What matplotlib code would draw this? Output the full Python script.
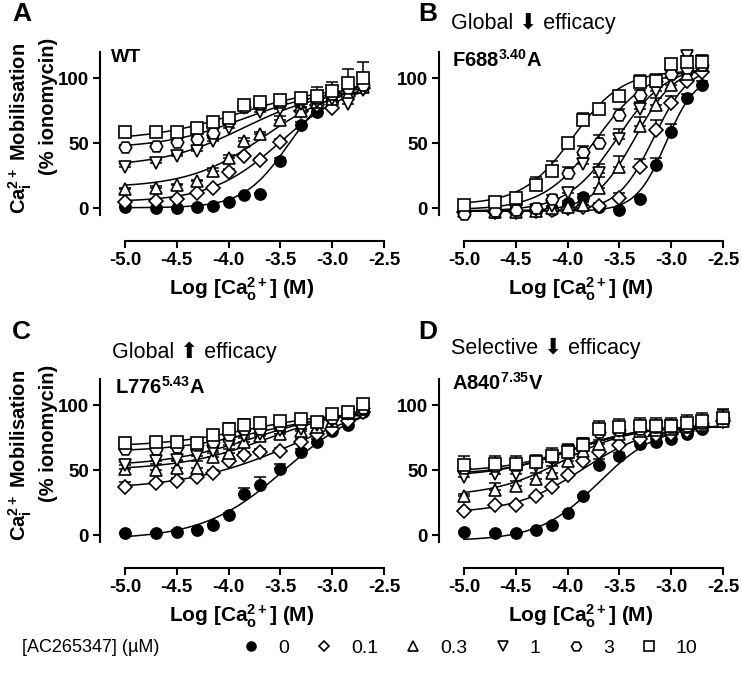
import numpy as np
import matplotlib
matplotlib.use("Agg")
from matplotlib import pyplot as plt
from matplotlib.lines import Line2D
from matplotlib.ticker import FormatStrFormatter

plt.rcParams['font.family'] = ['Liberation Sans', 'DejaVu Sans']
plt.rcParams['mathtext.fontset'] = 'custom'
plt.rcParams['mathtext.rm'] = 'Liberation Sans:bold'
plt.rcParams['mathtext.bf'] = 'Liberation Sans:bold'
plt.rcParams['mathtext.it'] = 'Liberation Sans:bold'
plt.rcParams['axes.unicode_minus'] = False

# log [Ca2+o] (M)
log_ca = [-5.0, -4.7, -4.5, -4.3, -4.15, -4.0, -3.85, -3.7, -3.5, -3.3, -3.15, -3.0, -2.85, -2.7]
log_ca_d = log_ca + [-2.5]

# [AC265347] (uM)
conc_labels = ["0", "0.1", "0.3", "1", "3", "10"]

# % ionomycin, rows = 0, 0.1, 0.3, 1, 3, 10 uM
wt_means = [
    [1, 0, 0, 1, 2, 5, 10, 11, 36, 64, 74, 82, 93, 96],
    [5, 6, 7, 12, 16, 28, 40, 37, 51, 75, 79, 77, 86, 92],
    [15, 16, 18, 21, 29, 39, 52, 57, 68, 75, 82, 84, 88, 93],
    [32, 35, 40, 44, 52, 62, 77, 74, 76, 80, 82, 84, 80, 91],
    [47, 48, 51, 53, 58, 67, 78, 80, 82, 84, 85, 88, 92, 95],
    [59, 59, 59, 62, 66, 69, 79, 82, 83, 85, 86, 90, 96, 100],
]
wt_sem = [
    [1, 1, 1, 1, 1, 1, 1, 1, 3, 2, 2, 3, 3, 4],
    [1, 1, 1, 1, 1, 2, 2, 2, 2, 3, 3, 3, 4, 4],
    [1, 1, 1, 1, 2, 2, 2, 2, 3, 3, 3, 3, 4, 4],
    [2, 2, 2, 2, 2, 3, 2, 2, 2, 3, 4, 4, 4, 5],
    [2, 2, 2, 2, 2, 2, 3, 2, 2, 3, 5, 5, 6, 6],
    [2, 2, 2, 2, 2, 2, 2, 2, 3, 3, 7, 7, 11, 12],
]
wt_fit_bottom = [0.5, 5, 16, 32, 46, 52]
wt_fit_top = [98, 97, 95, 92, 92, 94]
wt_fit_logec50 = [-3.42, -3.5, -3.65, -3.85, -3.85, -3.9]
wt_fit_hill = [2.0, 1.3, 1.2, 1.1, 1.1, 1.0]

f688_means = [
    [-2, -3, -3, -2, -1, 4, 9, 1, -1, 7, 33, 59, 85, 95],
    [-3, -3, -3, -2, -1, 0, 1, 2, 8, 32, 60, 81, 98, 105],
    [-2, -3, -3, -2, 0, 1, 3, 16, 32, 63, 79, 95, 103, 110],
    [-2, -2, -2, -1, 2, 12, 34, 27, 53, 76, 90, 102, 117, 113],
    [-4, -2, -1, 0, 7, 27, 43, 50, 72, 87, 98, 103, 108, 110],
    [3, 5, 8, 18, 29, 50, 68, 76, 86, 97, 98, 111, 112, 112],
]
f688_sem = [
    [1, 1, 1, 1, 1, 2, 2, 1, 1, 2, 6, 6, 3, 3],
    [1, 1, 1, 1, 1, 1, 1, 2, 4, 6, 8, 5, 4, 4],
    [1, 1, 1, 1, 2, 2, 2, 8, 8, 7, 6, 5, 4, 4],
    [1, 1, 1, 2, 3, 4, 7, 7, 8, 6, 5, 4, 3, 4],
    [1, 1, 1, 2, 3, 5, 5, 6, 4, 4, 4, 4, 4, 4],
    [1, 1, 2, 6, 7, 3, 5, 3, 3, 5, 5, 4, 4, 5],
]
f688_fit_bottom = [-2, -2, -2, -2, -1, 3]
f688_fit_top = [103, 110, 110, 110, 108, 106]
f688_fit_logec50 = [-3.05, -3.17, -3.35, -3.52, -3.72, -3.95]
f688_fit_hill = [3.0, 2.5, 2.2, 1.8, 1.7, 1.8]

l776_means = [
    [2, 2, 3, 4, 8, 16, 32, 39, 51, 64, 72, 80, 85, 95],
    [37, 40, 42, 45, 48, 57, 62, 64, 65, 72, 78, 82, 88, 95],
    [51, 50, 52, 52, 60, 63, 72, 76, 78, 80, 83, 88, 94, 97],
    [54, 57, 58, 61, 65, 69, 76, 78, 81, 82, 85, 88, 93, 97],
    [66, 66, 68, 69, 72, 77, 82, 82, 85, 86, 87, 90, 94, 98],
    [71, 72, 72, 71, 77, 82, 85, 86, 88, 89, 87, 93, 95, 101],
]
l776_sem = [
    [1, 1, 1, 1, 1, 1, 4, 6, 4, 2, 2, 2, 2, 3],
    [4, 2, 2, 2, 2, 2, 2, 2, 2, 2, 2, 2, 2, 3],
    [5, 5, 5, 5, 3, 3, 3, 2, 2, 2, 2, 2, 3, 3],
    [3, 4, 4, 3, 3, 3, 3, 2, 2, 2, 2, 2, 3, 3],
    [2, 2, 2, 2, 2, 2, 3, 3, 2, 2, 2, 2, 3, 4],
    [2, 2, 2, 2, 2, 4, 4, 4, 2, 2, 2, 2, 3, 4],
]
l776_fit_bottom = [-3, 35, 50, 53, 64, 68]
l776_fit_top = [105, 110, 100, 97, 95, 95]
l776_fit_logec50 = [-3.45, -3.3, -3.6, -3.75, -3.7, -3.8]
l776_fit_hill = [1.1, 0.8, 1.0, 1.0, 1.0, 1.0]

a840_means = [
    [2.5, 2, 2, 4, 8, 17, 30, 54, 61, 70, 72, 74, 78, 82, 88],
    [19, 23, 23, 30, 37, 46, 57, 64, 69, 74, 77, 78, 80, 84, 88],
    [30, 35, 38, 43, 48, 57, 65, 70, 78, 80, 81, 82, 83, 85, 88],
    [45, 47, 47, 53, 59, 65, 70, 81, 80, 82, 83, 84, 85, 87, 89],
    [52, 53, 54, 56, 60, 63, 70, 79, 81, 82, 83, 83, 84, 86, 90],
    [54, 55, 55, 56, 61, 64, 69, 82, 83, 84, 84, 84, 86, 88, 90],
]
a840_sem = [
    [1, 1, 1, 1, 1, 1, 1, 5, 2, 2, 2, 2, 2, 2, 3],
    [1, 1, 1, 1, 1, 2, 2, 2, 2, 2, 2, 2, 2, 3, 3],
    [2, 5, 4, 5, 5, 4, 3, 3, 3, 3, 3, 3, 3, 3, 4],
    [4, 5, 5, 5, 4, 4, 4, 4, 4, 4, 4, 4, 4, 4, 5],
    [5, 5, 5, 5, 5, 5, 5, 5, 5, 5, 5, 5, 5, 5, 6],
    [7, 6, 6, 6, 6, 6, 6, 6, 6, 6, 6, 6, 6, 6, 7],
]
a840_fit_bottom = [-4, 17, 30, 45, 47, 49]
a840_fit_top = [85, 85, 84, 84, 84, 84]
a840_fit_logec50 = [-3.7, -3.85, -4.05, -4.0, -3.95, -3.95]
a840_fit_hill = [1.5, 1.3, 1.3, 1.2, 1.3, 1.3]

markers = ["o", "D", "^", "v", "H", "s"]
msizes = [8, 7, 9, 9, 9, 9]

W, H = 742, 678
fig = plt.figure(figsize=(W / 100, H / 100), dpi=100)


def px_rect(left, top, right, bottom):
    return [left / W, 1 - bottom / H, (right - left) / W, (bottom - top) / H]


def draw_panel(rect, x, means, sems, bottoms, tops, ec50s, hills):
    ax = fig.add_axes(rect)
    xs = np.linspace(min(x), max(x), 300)
    for i in range(6):
        fit = bottoms[i] + (tops[i] - bottoms[i]) / (1 + 10 ** ((ec50s[i] - xs) * hills[i]))
        ax.plot(xs, fit, color='k', lw=1.1, zorder=2, clip_on=False)
        ax.errorbar(x, means[i], yerr=[np.zeros(len(x)), sems[i]], fmt='none', ecolor='k',
                    elinewidth=1.1, capsize=4, capthick=1.1, zorder=10 + 2 * i, clip_on=False)
        ax.plot(x, means[i], ls='none', marker=markers[i], ms=msizes[i],
                mfc='k' if i == 0 else 'white', mec='k', mew=1.2, zorder=11 + 2 * i, clip_on=False)
    ax.set_xlim(-5.24, -2.5)
    ax.set_ylim(-25, 120)
    ax.spines['top'].set_visible(False)
    ax.spines['right'].set_visible(False)
    ax.spines['left'].set_bounds(-5, 120)
    ax.spines['bottom'].set_bounds(-5, -2.5)
    for s in ('left', 'bottom'):
        ax.spines[s].set_linewidth(1.5)
    ax.set_xticks(np.arange(-5.0, -2.49, 0.5))
    ax.set_yticks([0, 50, 100])
    ax.xaxis.set_major_formatter(FormatStrFormatter('%.1f'))
    ax.tick_params(direction='out', length=5, width=1.5, labelsize=13.5, pad=3)
    for lab in ax.get_xticklabels() + ax.get_yticklabels():
        lab.set_fontweight('bold')
    ax.set_xlabel(r"Log [Ca$^{2+}_{\mathrm{o}}$] (M)", fontsize=15, fontweight='bold', labelpad=5)
    return ax


ax_a = draw_panel(px_rect(100, 52, 384, 241), log_ca, wt_means, wt_sem,
                  wt_fit_bottom, wt_fit_top, wt_fit_logec50, wt_fit_hill)
ax_b = draw_panel(px_rect(439, 52, 723, 241), log_ca, f688_means, f688_sem,
                  f688_fit_bottom, f688_fit_top, f688_fit_logec50, f688_fit_hill)
ax_c = draw_panel(px_rect(100, 379, 384, 568), log_ca, l776_means, l776_sem,
                  l776_fit_bottom, l776_fit_top, l776_fit_logec50, l776_fit_hill)
ax_d = draw_panel(px_rect(439, 379, 723, 568), log_ca_d, a840_means, a840_sem,
                  a840_fit_bottom, a840_fit_top, a840_fit_logec50, a840_fit_hill)

# y labels, two lines placed separately
for yc in (128, 455):
    fig.text(20 / W, 1 - yc / H, "Ca$^{2+}_{\\mathrm{i}}$ Mobilisation", rotation=90,
             ha='center', va='center', fontsize=14.5, fontweight='bold')
    fig.text(48 / W, 1 - (yc - 22) / H, "(% ionomycin)", rotation=90,
             ha='center', va='center', fontsize=14.5, fontweight='bold')

# panel letters
for lx, ly, letter in [(12, 14, "A"), (418, 14, "B"), (12, 332, "C"), (418, 332, "D")]:
    fig.text(lx / W, 1 - ly / H, letter, fontsize=19, fontweight='bold', ha='left', va='center')

# headings
fig.text(451 / W, 1 - 23 / H, "Global \u2B07 efficacy", fontsize=15.5, ha='left', va='center')
fig.text(112 / W, 1 - 352 / H, "Global \u2B06 efficacy", fontsize=15.5, ha='left', va='center')
fig.text(451 / W, 1 - 348 / H, "Selective \u2B07 efficacy", fontsize=15.5, ha='left', va='center')

# mutant names
fig.text(111 / W, 1 - 58 / H, "WT", fontsize=14, fontweight='bold', ha='left', va='center')
fig.text(452 / W, 1 - 60 / H, r"F688$^{3.40}$A", fontsize=14.5, fontweight='bold', ha='left', va='center')
fig.text(115 / W, 1 - 387 / H, r"L776$^{5.43}$A", fontsize=14.5, fontweight='bold', ha='left', va='center')
fig.text(452 / W, 1 - 383 / H, r"A840$^{7.35}$V", fontsize=14.5, fontweight='bold', ha='left', va='center')

# legend
fig.text(22 / W, 1 - 648 / H, "[AC265347] (\u00b5M)", fontsize=13, ha='left', va='center')
handles = [Line2D([], [], ls='none', marker=markers[i], ms=msizes[i] * 0.8,
                  mfc='k' if i == 0 else 'white', mec='k', mew=1.2) for i in range(6)]
fig.legend(handles, conc_labels, ncol=6, loc='center left', bbox_to_anchor=(241 / W, 1 - 648 / H),
           frameon=False, handlelength=1.0, handletextpad=0.9, columnspacing=1.3,
           prop={'size': 14}, borderpad=0, borderaxespad=0)

fig.savefig("out.png", dpi=100)
